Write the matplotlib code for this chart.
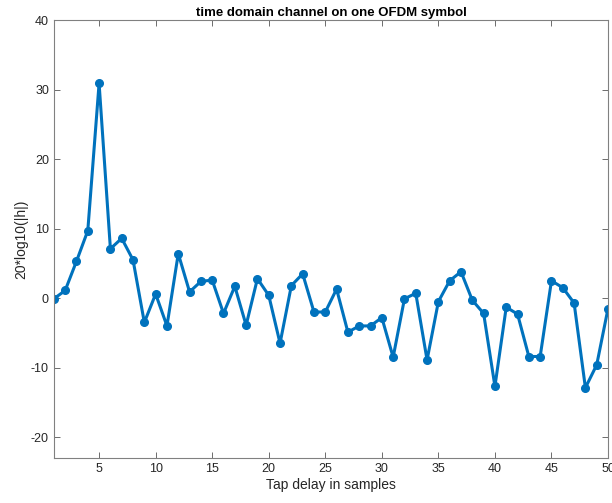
import matplotlib
matplotlib.use("Agg")
import matplotlib.pyplot as plt

# tap delay (samples) and channel gain in dB
taps = list(range(1, 51))
gain_db = [-0.1, 1.1, 5.3, 9.7, 30.9, 7.1, 8.6, 5.5, -3.5, 0.6,
           -4.0, 6.4, 0.9, 2.4, 2.6, -2.2, 1.7, -3.9, 2.8, 0.4,
           -6.5, 1.8, 3.5, -2.0, -2.0, 1.3, -4.9, -4.0, -4.0, -2.8,
           -8.5, -0.1, 0.7, -8.9, -0.5, 2.5, 3.8, -0.3, -2.2, -12.7,
           -1.3, -2.3, -8.4, -8.4, 2.5, 1.5, -0.7, -12.9, -9.6, -1.5]

x_ticks = [5, 10, 15, 20, 25, 30, 35, 40, 45, 50]
y_ticks = [-20, -10, 0, 10, 20, 30, 40]

plt.rcParams['font.family'] = ['Liberation Sans', 'DejaVu Sans']
plt.rcParams['axes.unicode_minus'] = False

fig = plt.figure(figsize=(6.12, 5.03), dpi=100)
ax = fig.add_axes([0.088, 0.0895, 0.9055, 0.8705])

ax.plot(taps, gain_db, color='#0072BD', linewidth=2.2, marker='.', markersize=11)

ax.set_xlim(1, 50)
ax.set_ylim(-23, 40)
ax.set_xticks(x_ticks)
ax.set_yticks(y_ticks)

grey = '#262626'
for s in ax.spines.values():
    s.set_color('#808080')
    s.set_linewidth(0.8)
ax.tick_params(direction='in', top=True, right=True, length=4, width=0.6,
               color='#555555', labelsize=9, labelcolor=grey)

ax.set_title('time domain channel on one OFDM symbol', fontsize=9.5, fontweight='bold', pad=3)
ax.set_xlabel('Tap delay in samples', fontsize=10, color=grey, labelpad=2)
ax.set_ylabel('20*log10(|h|)', fontsize=10, color=grey, labelpad=2)

fig.savefig('out.png', dpi=100)
